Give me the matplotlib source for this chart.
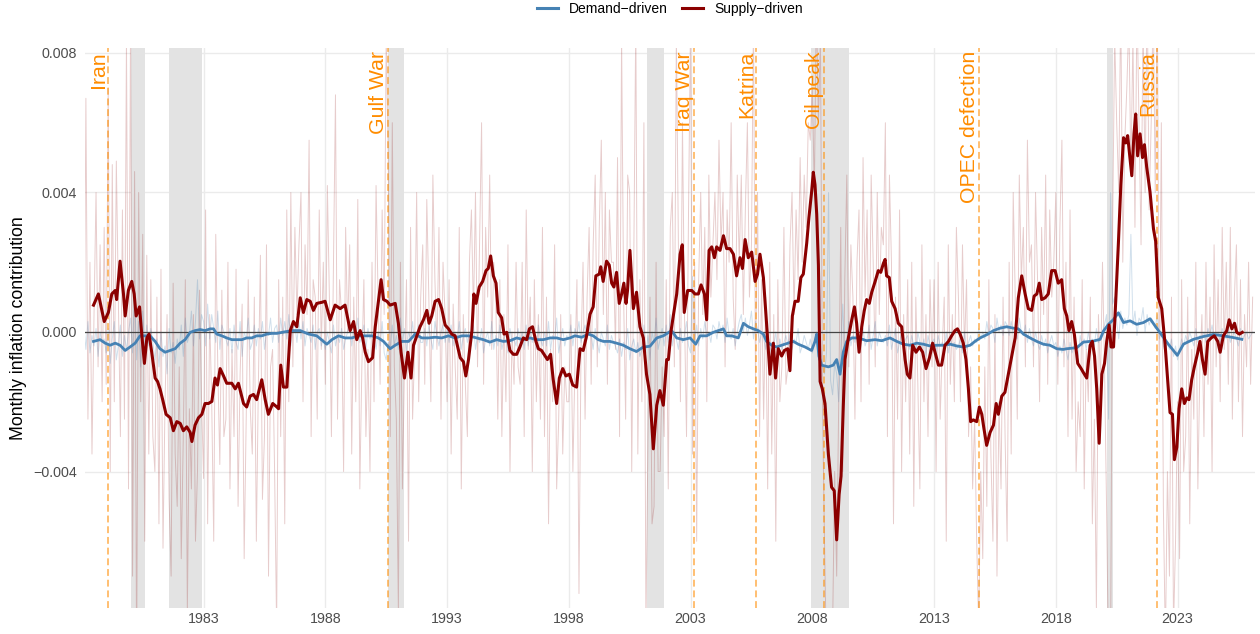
import numpy as np
import matplotlib
matplotlib.use("Agg")
import matplotlib.pyplot as plt
from matplotlib.lines import Line2D

plt.rcParams['font.family'] = ['Liberation Sans', 'DejaVu Sans']

UNIT = 1e-4  # values below are in units of 1e-4

# ---- raw monthly contributions, starting Jan 1978 (one row per year) ----
raw_start = 1978.0
supply_raw = [
    12, -30, 67, -25, 20, -35, 5, 40, -10, 25, -20, 30,          # 1978
    -15, 70, -40, 48, -20, 49, 10, -30, 35, -25, 85, -45,        # 1979
    90, -70, 46, -95, 40, -20, 28, -60, 22, -35, 15, -30,        # 1980
    -40, 10, -55, 18, -62, -20, 5, -48, -70, 14, -35, -50,       # 1981
    -10, -65, -30, 15, -80, -22, -45, 5, -60, -40, 12, -20,      # 1982
    -42, 35, -55, 5, -20, -60, 28, -10, -38, 12, -30, -25,       # 1983
    20, -45, -5, -30, 18, -50, -12, 8, -65, -25, 15, -22,        # 1984
    -35, 10, -60, -15, 22, -48, -30, 25, -70, -10, -5, -40,      # 1985
    -85, 15, -30, 10, -55, 35, -20, 40, -10, 30, 5, 25,          # 1986
    40, -20, 25, 5, 55, -30, 15, 10, -25, 35, -5, 20,            # 1987
    -15, 42, 10, -30, 20, 68, -25, 15, 5, -40, 30, 0,            # 1988
    25, -35, 10, -20, 38, -45, -10, 15, -30, -5, -40, 20,        # 1989
    -20, 42, 10, -15, 35, 5, 85, 50, -30, 60, -10, -25,          # 1990
    -80, 20, -45, -10, 15, -60, 30, -25, -5, 40, -20, 10,        # 1991
    25, -15, 38, 10, -20, 45, 15, -5, 30, -25, 20, 5,            # 1992
    -20, 15, -35, 8, -10, -25, 30, -45, 5, -15, -30, 20,         # 1993
    35, 5, 40, -10, 25, 60, -15, 30, 10, 45, -5, 20,             # 1994
    10, -25, 15, -30, 5, -20, 25, -40, 0, -15, 20, -10,          # 1995
    -15, 20, -30, 35, -5, 10, -40, 15, -20, 5, -25, 30,          # 1996
    -30, 10, -55, -5, -20, 25, -45, -25, 5, -35, -10, -20,       # 1997
    -20, 5, -40, -10, 15, -75, -5, 20, -25, 10, 30, -15,         # 1998
    25, 45, -10, 30, 55, 5, 40, -15, 35, 20, 20, -5,             # 1999
    50, -30, 85, 10, -25, 45, 40, -40, 20, 90, -35, 15,          # 2000
    -20, 60, -85, -30, 10, -55, -50, 20, -40, -40, -10, -30,     # 2001
    15, -45, 30, 40, -10, 85, 25, -20, 60, 5, -30, 35,           # 2002
    90, -35, 20, -60, 15, 40, 5, 30, -20, 45, 10, 25,            # 2003
    40, 15, 55, 25, 40, -10, 35, 20, 60, 10, -5, 45,             # 2004
    20, 45, 5, 35, 60, 10, 25, 90, -15, 40, -30, 15,             # 2005
    -25, 10, -45, 20, -35, 5, -60, 15, -20, -10, 30, -15,        # 2006
    -10, 25, 40, 5, 35, 15, 50, 20, 45, 30, 60, 55,              # 2007
    70, 40, 95, 60, 85, -20, -60, -95, -90, -100, -85, -40,      # 2008
    -70, -20, 30, -40, 15, 45, -10, 25, 10, -25, 20, 35,         # 2009
    -20, 50, 10, 35, -15, 45, 20, -10, 40, 5, 30, 25,            # 2010
    60, -30, 45, 20, -55, 10, -25, 35, -40, 5, -20, 15,          # 2011
    -35, 20, -50, 10, -15, -45, 25, -20, 5, -30, 15, -10,        # 2012
    15, -40, 20, -25, -5, 10, -60, 25, -15, 5, -20, 30,          # 2013
    10, -20, 25, -5, 15, -30, -10, -45, -25, -60, -85, -40,      # 2014
    -65, -10, -50, 15, -35, -60, 5, -70, -20, -45, 10, -30,      # 2015
    -60, 20, -35, 40, 10, -25, 45, 15, 30, -10, 55, 20,          # 2016
    25, -10, 40, 15, -20, 30, 5, 45, -15, 35, 10, 20,            # 2017
    40, -15, 30, 55, -10, 20, -30, 35, -25, 10, -40, -20,        # 2018
    -30, 15, -45, -5, -20, 10, -55, -25, -80, 5, -15, 20,        # 2019
    -10, -50, -95, -90, 30, 85, 60, 40, 95, 20, 55, 70,          # 2020
    90, 45, 85, 30, 95, 60, 25, 90, 40, 100, 35, 60,             # 2021
    95, 40, 100, -20, 60, -50, -90, -40, -70, 10, -85, -60,      # 2022
    -20, -65, 15, -40, -30, 10, -55, -5, -25, 20, -45, -10,      # 2023
    5, -30, 20, -15, 10, -40, 25, -10, 15, -20, 30, -5,          # 2024
    20, -15, 30, -25, 10, 25, -20, 15, -30, 5, -10, 20,          # 2025
    -15, 10,                                                     # 2026
]
demand_raw = [
    -8, 2, -5, 3, -6, -1, -4, 1, -7, 0, -3, -2,
    -6, 1, -9, -2, 3, -8, -4, 2, -7, -1, -5, 0,
    4, -6, 12, -8, 3, -10, 6, -5, 2, -4, 1, -3,
    -8, -2, -10, 0, -7, -4, -12, 1, -6, -3, -9, -2,
    -5, 2, -7, 4, -3, -1, 6, -4, 3, 15, -2, 5,
    3, -4, 8, -2, 5, 1, -3, 6, -5, 2, 0, -2,
    -4, 1, -6, 2, -3, -5, 3, -7, 0, -2, 4, -5,
    -3, 2, -4, 1, -2, 3, -5, 0, -1, 4, -3, 1,
    2, -3, 4, -1, 3, -2, 5, -4, 1, 2, -3, 3,
    -2, 3, -4, 1, -1, -3, 2, -5, 0, 1, -4, -2,
    -5, 0, -3, -6, 2, -4, -1, -3, 1, -5, -2, 0,
    3, -4, 1, -2, 4, -3, -1, 2, -5, 1, -2, 0,
    -2, -5, 0, -4, 3, -6, -8, -3, -5, 2, -4, -1,
    -5, 4, -3, 1, -6, 0, -2, 3, -4, -1, 2, -3,
    -3, 1, -4, 2, -2, -5, 3, -1, -4, 0, 2, -3,
    1, -3, 2, -4, 0, -2, 3, -5, -1, 1, -3, 0,
    -4, 2, -5, -1, -3, 1, -6, -2, 0, -4, 3, -5,
    -1, -4, 2, -5, -2, 0, -6, 1, -3, -2, -4, 1,
    -3, 0, -5, 2, -4, 1, -3, -1, -5, 2, -2, -4,
    0, -4, 3, -5, -1, -2, 4, -6, -2, 1, -4, -1,
    -2, 2, -4, 1, -1, 3, -3, 0, 2, -2, 1, -1,
    -5, 1, -3, -6, 0, -2, -4, 2, -5, -1, -3, -4,
    -6, -2, -7, -3, -5, 1, -8, -4, -2, -6, -3, -7,
    -5, 2, -6, -1, -8, 0, -3, 4, -5, -2, 1, -4,
    2, -3, 5, -4, 0, -2, -5, 1, -3, -1, 3, -4,
    -6, 16, -3, 2, -4, 1, -2, 3, -1, 0, -3, 2,
    1, -2, 3, 0, 2, -3, 4, -1, -2, 1, -4, 0,
    3, 5, 0, 4, -1, 2, 6, -2, 3, 1, -3, 0,
    -2, -5, 1, -6, -3, -4, 0, -7, -2, -5, -3, -1,
    -4, 0, -5, -2, -3, 1, -6, -4, -1, -3, -5, -2,
    -6, -3, 0, -8, -4, -10, -12, -6, 40, -14, -18, -9,
    -12, -20, -5, 8, -9, -2, 3, -4, -1, -3, 2, -5,
    -3, 1, -4, -2, 2, -5, -1, 3, -4, 0, -2, -3,
    -1, -4, 2, -5, -2, 1, -6, -3, 0, -4, -2, -1,
    -5, -1, -4, -6, 0, -3, -5, -2, -7, -1, -4, -3,
    -2, -6, -1, -4, -3, -5, 0, -6, -2, -4, -3, -5,
    -4, -2, -6, 0, -5, -3, -1, -4, -2, -3, 1, -2,
    0, -2, 3, -1, 2, 1, -3, 4, 0, 2, -1, 3,
    2, -1, 3, 0, 1, -2, 4, 0, -1, 2, -3, 1,
    -2, -4, 0, -3, -5, -1, -4, -2, -6, -3, -1, -4,
    -3, -7, -4, -6, -2, -5, -8, -3, -6, -4, -5, -7,
    -1, -4, -2, -5, 0, -3, -2, -4, 1, -3, -2, 0,
    2, 5, -25, 40, 8, 10, 3, -2, 6, 1, 4, 2,
    5, 28, 2, 6, -1, 4, 3, 7, 0, 5, 2, 4,
    3, 1, 5, -2, 0, -4, -6, -3, -5, -2, -7, -4,
    -8, -5, -2, -4, -1, -3, 0, -2, -4, 1, -3, -1,
    -2, 0, -3, 1, -1, 2, -2, -1, 0, -3, 1, -1,
    -2, 1, -3, -1, 0, -2, -4, 1, -2, -1, 0, -2,
    -1, 0,
]

# ---- smoothed series (time in years, value in 1e-4) ----
supply_smooth = [
    (1978.48, 7.7), (1978.68, 10.9), (1978.92, 3.0), (1979.09, 5.6), (1979.23, 10.9),
    (1979.37, 11.9), (1979.43, 9.3), (1979.57, 20.3), (1979.71, 10.9), (1979.78, 4.6),
    (1979.91, 11.9), (1980.05, 14.5), (1980.15, 10.9), (1980.23, 4.6), (1980.37, 7.2),
    (1980.46, -0.6), (1980.57, -9.0), (1980.67, -1.7), (1980.76, -0.6), (1980.87, -5.8),
    (1981.01, -13.2), (1981.11, -14.2), (1981.21, -16.3), (1981.32, -19.4), (1981.46, -23.6),
    (1981.63, -24.6), (1981.76, -28.3), (1981.90, -25.7), (1982.04, -26.2), (1982.17, -28.3),
    (1982.31, -27.2), (1982.45, -28.8), (1982.52, -31.4), (1982.65, -26.7), (1982.79, -24.6),
    (1982.93, -23.6), (1983.06, -20.5), (1983.20, -20.5), (1983.34, -19.9), (1983.47, -13.2),
    (1983.57, -15.2), (1983.68, -10.5), (1983.82, -12.6), (1983.95, -14.7), (1984.16, -14.7),
    (1984.30, -16.3), (1984.43, -14.7), (1984.64, -20.5), (1984.77, -21.5), (1984.91, -18.4),
    (1985.05, -17.9), (1985.18, -19.4), (1985.39, -13.7), (1985.53, -19.4), (1985.66, -23.6),
    (1985.84, -20.5), (1986.01, -21.5), (1986.08, -22.0), (1986.17, -9.5), (1986.28, -15.8),
    (1986.42, -15.8), (1986.56, 0.4), (1986.69, 3.0), (1986.83, 1.5), (1986.97, 9.8),
    (1987.10, 5.6), (1987.24, 9.3), (1987.38, 8.8), (1987.51, 6.2), (1987.65, 8.2),
    (1987.85, 8.5), (1987.99, 8.8), (1988.20, 3.5), (1988.40, 7.7), (1988.61, 6.7),
    (1988.81, 7.7), (1989.02, 0.4), (1989.16, 3.0), (1989.29, -2.2), (1989.43, 0.4),
    (1989.53, -1.7), (1989.64, -5.8), (1989.77, -8.5), (1989.94, -7.4), (1990.05, 1.5),
    (1990.18, 8.8), (1990.29, 15.0), (1990.39, 9.3), (1990.53, 8.8), (1990.66, 7.7),
    (1990.87, 8.2), (1991.00, 2.5), (1991.11, -5.8), (1991.25, -13.2), (1991.39, -5.8),
    (1991.52, -13.2), (1991.62, -3.8), (1991.76, -1.1), (1991.89, 1.5), (1992.03, 3.5),
    (1992.17, 6.2), (1992.26, 2.5), (1992.37, 4.6), (1992.51, 8.8), (1992.65, 9.3),
    (1992.78, 6.7), (1992.92, 2.0), (1993.06, 0.9), (1993.19, -0.6), (1993.33, -1.1),
    (1993.54, -7.4), (1993.67, -8.5), (1993.77, -12.6), (1993.88, -7.9), (1994.02, 0.4),
    (1994.10, 10.9), (1994.19, 8.2), (1994.32, 12.9), (1994.46, 14.5), (1994.60, 17.6),
    (1994.69, 18.2), (1994.79, 21.8), (1994.90, 16.1), (1995.01, 14.0), (1995.10, 5.6),
    (1995.24, 4.1), (1995.34, -0.6), (1995.45, -0.1), (1995.58, -5.3), (1995.72, -6.4),
    (1995.86, -6.4), (1995.99, -4.3), (1996.13, -1.7), (1996.27, -2.2), (1996.38, 0.9),
    (1996.51, 1.5), (1996.65, -2.7), (1996.75, -4.8), (1996.88, -5.3), (1996.98, -6.4),
    (1997.12, -7.9), (1997.25, -6.4), (1997.36, -13.7), (1997.50, -20.5), (1997.61, -13.2),
    (1997.75, -10.5), (1997.88, -12.6), (1998.02, -12.1), (1998.16, -15.2), (1998.32, -15.8),
    (1998.46, -4.8), (1998.59, -5.3), (1998.73, -1.1), (1998.87, 5.1), (1999.00, 7.2),
    (1999.11, 16.1), (1999.25, 16.6), (1999.31, 18.7), (1999.41, 14.5), (1999.55, 20.3),
    (1999.66, 19.2), (1999.76, 14.0), (1999.85, 12.9), (1999.96, 17.1), (2000.07, 8.2),
    (2000.17, 10.9), (2000.26, 14.0), (2000.35, 8.2), (2000.41, 11.9), (2000.51, 23.4),
    (2000.65, 6.7), (2000.78, 11.4), (2000.92, 1.5), (2001.06, -1.7), (2001.19, -12.1),
    (2001.33, -17.9), (2001.47, -33.5), (2001.61, -21.0), (2001.74, -16.8), (2001.88, -21.0),
    (2002.02, -7.9), (2002.09, -7.9), (2002.20, 0.4), (2002.29, 4.6), (2002.43, 10.9),
    (2002.57, 22.3), (2002.66, 25.0), (2002.74, 5.6), (2002.88, 11.9), (2003.05, 11.9),
    (2003.18, 10.9), (2003.32, 10.9), (2003.43, 13.5), (2003.57, 10.9), (2003.66, 3.5),
    (2003.76, 23.4), (2003.87, 24.4), (2003.98, 21.3), (2004.07, 24.4), (2004.21, 23.4),
    (2004.35, 27.6), (2004.48, 23.9), (2004.62, 23.9), (2004.76, 22.3), (2004.89, 16.1),
    (2005.03, 21.3), (2005.13, 18.2), (2005.24, 26.5), (2005.37, 21.3), (2005.51, 22.9),
    (2005.65, 14.5), (2005.75, 16.6), (2005.85, 22.3), (2005.99, 15.6), (2006.12, 2.5),
    (2006.26, -12.1), (2006.40, -3.2), (2006.49, -13.2), (2006.60, -4.8), (2006.74, -6.9),
    (2006.85, -5.3), (2006.99, -4.8), (2007.08, -11.1), (2007.18, 4.6), (2007.29, 8.8),
    (2007.42, 8.8), (2007.53, 15.6), (2007.63, 16.6), (2007.77, 25.5), (2007.86, 32.8),
    (2007.97, 40.1), (2008.04, 45.8), (2008.11, 42.2), (2008.18, 33.8), (2008.25, 19.2),
    (2008.32, -14.2), (2008.41, -16.3), (2008.52, -20.5), (2008.66, -35.1), (2008.79, -44.5),
    (2008.90, -45.5), (2009.00, -59.6), (2009.10, -46.6), (2009.18, -41.3), (2009.27, -21.5),
    (2009.34, -7.9), (2009.48, -1.7), (2009.62, 3.5), (2009.73, 7.2), (2009.82, 2.5),
    (2009.92, -5.8), (2010.03, 1.5), (2010.13, 6.0), (2010.23, 9.3), (2010.34, 8.2),
    (2010.44, 11.4), (2010.58, 14.5), (2010.71, 17.6), (2010.81, 17.1), (2010.92, 19.7),
    (2010.99, 20.8), (2011.05, 16.1), (2011.16, 15.6), (2011.26, 8.8), (2011.40, 6.7),
    (2011.53, 2.5), (2011.67, 1.5), (2011.81, -7.9), (2011.90, -12.1), (2012.01, -13.2),
    (2012.12, -3.8), (2012.26, -5.8), (2012.40, -4.3), (2012.53, -5.8), (2012.67, -10.5),
    (2012.81, -7.4), (2012.94, -3.2), (2013.04, -5.8), (2013.18, -9.5), (2013.31, -9.5),
    (2013.45, -3.8), (2013.59, -2.7), (2013.72, -1.1), (2013.86, 0.4), (2013.96, 0.9),
    (2014.07, -0.6), (2014.20, -3.2), (2014.31, -7.9), (2014.41, -16.3), (2014.50, -25.7),
    (2014.61, -25.2), (2014.75, -25.7), (2014.86, -21.5), (2014.96, -23.6), (2015.05, -27.8),
    (2015.16, -32.5), (2015.30, -28.8), (2015.44, -26.7), (2015.55, -20.5), (2015.64, -23.6),
    (2015.78, -18.4), (2015.91, -17.3), (2016.05, -12.1), (2016.19, -6.9), (2016.33, -1.7),
    (2016.46, 9.8), (2016.60, 16.1), (2016.74, 10.9), (2016.87, 6.7), (2017.01, 6.2),
    (2017.11, 10.3), (2017.22, 10.9), (2017.32, 14.0), (2017.42, 9.3), (2017.56, 9.8),
    (2017.69, 10.9), (2017.83, 17.6), (2017.97, 17.6), (2018.10, 14.0), (2018.24, 15.0),
    (2018.35, 6.7), (2018.45, 4.6), (2018.54, 0.4), (2018.65, 3.0), (2018.76, -0.6),
    (2018.90, -9.0), (2019.04, -10.5), (2019.13, -11.6), (2019.27, -13.2), (2019.41, -3.8),
    (2019.50, -2.7), (2019.59, -6.9), (2019.68, -16.3), (2019.78, -31.9), (2019.89, -12.1),
    (2020.00, -9.0), (2020.09, -2.7), (2020.19, 2.0), (2020.27, -4.3), (2020.37, -4.3),
    (2020.46, 8.8), (2020.57, 25.5), (2020.67, 42.2), (2020.78, 55.7), (2020.87, 54.2),
    (2020.95, 56.3), (2021.05, 49.5), (2021.12, 44.8), (2021.21, 56.8), (2021.28, 62.5),
    (2021.36, 50.5), (2021.46, 56.8), (2021.56, 50.0), (2021.64, 53.7), (2021.73, 47.4),
    (2021.87, 40.1), (2022.01, 29.6), (2022.10, 26.0), (2022.21, 9.8), (2022.35, 6.7),
    (2022.49, -3.8), (2022.62, -16.3), (2022.69, -23.1), (2022.79, -23.6), (2022.87, -36.6),
    (2022.97, -33.0), (2023.06, -22.0), (2023.17, -16.3), (2023.28, -20.5), (2023.38, -18.9),
    (2023.47, -19.4), (2023.58, -13.7), (2023.69, -10.0), (2023.83, -5.8), (2023.92, -2.7),
    (2024.02, -7.9), (2024.13, -12.1), (2024.24, -2.7), (2024.38, -1.7), (2024.51, -1.1),
    (2024.65, -2.7), (2024.75, -5.8), (2024.88, -1.1), (2025.02, 0.4), (2025.12, 3.5),
    (2025.23, 0.9), (2025.34, 2.5), (2025.43, -0.1), (2025.54, -0.6), (2025.66, -0.1),
]
demand_smooth = [
    (1978.48, -2.7), (1978.75, -2.2), (1978.96, -3.2), (1979.16, -3.8), (1979.37, -3.2),
    (1979.57, -3.8), (1979.78, -5.3), (1979.98, -4.3), (1980.19, -3.2), (1980.39, -1.1),
    (1980.60, -1.1), (1980.80, -1.1), (1981.01, -2.7), (1981.21, -4.8), (1981.42, -5.8),
    (1981.63, -5.3), (1981.83, -4.8), (1982.04, -3.2), (1982.24, -2.2), (1982.45, -0.1),
    (1982.65, 0.4), (1982.86, 0.7), (1983.06, 0.4), (1983.27, 0.9), (1983.41, 0.9),
    (1983.54, -0.6), (1983.75, -1.1), (1983.95, -1.7), (1984.16, -2.2), (1984.36, -2.2),
    (1984.57, -2.2), (1984.77, -1.7), (1984.98, -1.7), (1985.18, -1.1), (1985.39, -1.1),
    (1985.60, -0.6), (1985.80, -0.4), (1986.01, -0.4), (1986.30, 0.0), (1986.62, 0.4),
    (1986.97, 0.4), (1987.31, -0.6), (1987.65, -1.1), (1987.92, -2.7), (1988.06, -3.5),
    (1988.27, -2.2), (1988.54, -1.1), (1988.81, -1.7), (1989.09, -1.7), (1989.36, -1.1),
    (1989.64, -1.1), (1989.91, -1.1), (1990.18, -1.7), (1990.39, -2.7), (1990.66, -4.8),
    (1990.87, -3.8), (1991.14, -2.7), (1991.42, -2.7), (1991.69, -0.6), (1991.96, -1.7),
    (1992.24, -1.7), (1992.51, -1.5), (1992.78, -1.7), (1993.06, -1.1), (1993.33, -1.7),
    (1993.61, -1.1), (1993.88, -1.1), (1994.21, -1.7), (1994.49, -2.2), (1994.76, -2.9),
    (1995.04, -2.2), (1995.31, -2.7), (1995.58, -2.5), (1995.86, -1.7), (1996.13, -2.2),
    (1996.40, -1.7), (1996.68, -2.2), (1996.95, -2.2), (1997.23, -1.7), (1997.50, -1.7),
    (1997.77, -2.2), (1998.05, -1.7), (1998.25, -1.1), (1998.53, -1.5), (1998.80, -0.6),
    (1999.00, -1.1), (1999.21, -2.2), (1999.42, -2.7), (1999.69, -2.7), (1999.96, -3.2),
    (2000.24, -3.8), (2000.51, -4.8), (2000.78, -5.6), (2001.06, -4.3), (2001.33, -4.1),
    (2001.61, -1.7), (2001.88, -1.1), (2002.22, 0.4), (2002.43, -1.7), (2002.70, -2.2),
    (2002.98, -1.7), (2003.21, -3.5), (2003.39, -1.1), (2003.66, -1.1), (2003.93, -0.1),
    (2004.14, 0.4), (2004.35, 0.9), (2004.48, -1.1), (2004.69, -1.1), (2004.96, -1.7),
    (2005.17, 2.5), (2005.37, 1.5), (2005.58, 0.9), (2005.78, 0.4), (2005.99, -0.6),
    (2006.12, -2.7), (2006.33, -3.8), (2006.54, -4.3), (2006.74, -3.8), (2007.01, -3.2),
    (2007.22, -2.7), (2007.42, -3.5), (2007.70, -4.3), (2007.97, -5.3), (2008.11, -2.7),
    (2008.18, -0.6), (2008.27, -6.9), (2008.38, -9.5), (2008.66, -10.0), (2008.86, -9.5),
    (2009.00, -7.9), (2009.14, -12.1), (2009.27, -5.8), (2009.41, -2.7), (2009.62, -1.7),
    (2009.89, -1.7), (2010.23, -2.5), (2010.58, -2.2), (2010.85, -2.5), (2011.19, -1.7),
    (2011.47, -2.7), (2011.74, -3.5), (2012.01, -3.8), (2012.29, -3.2), (2012.56, -3.5),
    (2012.83, -4.0), (2013.11, -3.8), (2013.38, -3.8), (2013.66, -3.5), (2013.93, -4.0),
    (2014.20, -4.3), (2014.48, -3.8), (2014.68, -2.7), (2014.89, -1.7), (2015.16, -0.8),
    (2015.44, 0.4), (2015.71, 1.1), (2015.98, 1.5), (2016.26, 1.1), (2016.46, 0.9),
    (2016.67, -0.6), (2016.94, -1.7), (2017.22, -2.7), (2017.49, -3.5), (2017.76, -3.8),
    (2018.04, -4.8), (2018.30, -5.0), (2018.45, -4.8), (2018.86, -4.5), (2019.13, -2.9),
    (2019.54, -2.6), (2019.82, -2.1), (2019.96, 0.3), (2020.16, 2.2), (2020.37, 3.6),
    (2020.57, 5.5), (2020.78, 2.7), (2021.05, 3.2), (2021.32, 2.2), (2021.60, 2.7),
    (2021.87, 3.8), (2022.08, 1.7), (2022.28, -0.2), (2022.62, -3.5), (2022.99, -6.7),
    (2023.24, -3.5), (2023.65, -2.1), (2024.06, -1.3), (2024.47, -0.7), (2024.88, -1.1),
    (2025.29, -1.6), (2025.64, -2.1),
]

# ---- annotations ----
recession_start = [1980.0, 1981.58, 1990.58, 2001.2, 2007.95, 2020.12]
recession_end = [1980.58, 1982.92, 1991.25, 2001.92, 2009.5, 2020.33]
event_names = ["Iran", "Gulf War", "Iraq War", "Katrina", "Oil peak", "OPEC defection", "Russia"]
event_dates = [1979.08, 1990.58, 2003.15, 2005.68, 2008.50, 2014.84, 2022.15]
x_ticks = [1983, 1988, 1993, 1998, 2003, 2008, 2013, 2018, 2023]
y_ticks = [-0.004, 0.0, 0.004, 0.008]
y_tick_labels = ["\u22120.004", "0.000", "0.004", "0.008"]

DEMAND_COL = "#4682B4"
SUPPLY_COL = "#8B0000"
EVENT_COL = "#FF8C00"

fig = plt.figure(figsize=(12.6, 6.34), dpi=100)
ax = fig.add_axes([85 / 1260, 26 / 634, 1170 / 1260, 560 / 634])

raw_t = raw_start + np.arange(len(supply_raw)) / 12.0
sup_raw = np.array(supply_raw) * UNIT
dem_raw = np.array(demand_raw) * UNIT
st, sv = np.array(supply_smooth).T
dt, dv = np.array(demand_smooth).T

ax.set_axisbelow(True)
ax.grid(True, color="#ebebeb", linewidth=1.0, zorder=0)

for a, b in zip(recession_start, recession_end):
    ax.axvspan(a, b, color="#e3e3e3", lw=0, zorder=1)

ax.plot(raw_t, sup_raw, color=SUPPLY_COL, alpha=0.2, lw=0.7, zorder=2)
ax.plot(raw_t, dem_raw, color=DEMAND_COL, alpha=0.25, lw=0.7, zorder=2)

for name, d in zip(event_names, event_dates):
    ax.axvline(d, color=EVENT_COL, alpha=0.7, lw=1.1, dashes=(4.5, 2.5), zorder=2.5)
    ax.text(d, 1 - 3 / 560, name, transform=ax.get_xaxis_transform(), rotation=90,
            ha="right", va="top", color=EVENT_COL, fontsize=15.3, zorder=6)

ax.axhline(0, color="#444444", lw=0.9, zorder=3)
ax.plot(dt, dv * UNIT, color=DEMAND_COL, lw=2.0, zorder=4, solid_joinstyle="round")
ax.plot(st, sv * UNIT, color=SUPPLY_COL, lw=2.2, zorder=5, solid_joinstyle="round")

ax.set_xlim(1978.13, 2026.18)
ax.set_ylim(-0.007913, 0.008142)
ax.set_xticks(x_ticks)
ax.set_xticklabels([str(x) for x in x_ticks])
ax.set_yticks(y_ticks)
ax.set_yticklabels(y_tick_labels)
ax.tick_params(axis="both", length=0, labelsize=10.3, labelcolor="#4d4d4d")
ax.tick_params(axis="x", pad=3)
ax.tick_params(axis="y", pad=6)
for s in ax.spines.values():
    s.set_visible(False)

fig.text(18.5 / 1260, 1 - 328 / 634, "Monthly inflation contribution", rotation=90,
         ha="center", va="center", fontsize=12.7, color="black")

handles = [Line2D([], [], color=DEMAND_COL, lw=2.2),
           Line2D([], [], color=SUPPLY_COL, lw=2.2)]
fig.legend(handles, ["Demand\u2212driven", "Supply\u2212driven"], loc="center",
           bbox_to_anchor=(670 / 1260, 1 - 9 / 634), ncol=2, frameon=False, fontsize=10,
           handlelength=1.5, handletextpad=0.8, columnspacing=1.0)

fig.savefig("out.png", dpi=100)
